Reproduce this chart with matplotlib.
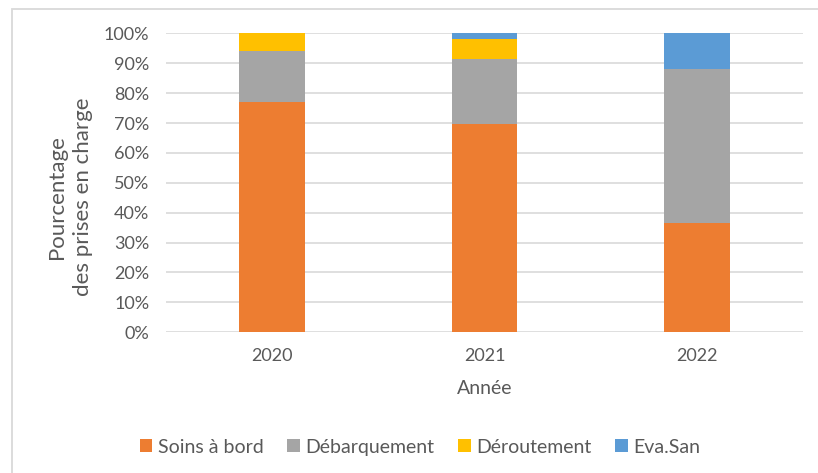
import matplotlib
matplotlib.use("Agg")
import matplotlib.pyplot as plt
from matplotlib.patches import Rectangle
from matplotlib.ticker import PercentFormatter

years = ["2020", "2021", "2022"]
soins_a_bord = [77.1, 69.8, 36.6]
debarquement = [17.0, 21.5, 51.4]
deroutement = [5.9, 6.7, 0.0]
eva_san = [0.0, 2.0, 12.0]

series = [
    ("Soins à bord", soins_a_bord, "#ED7D31"),
    ("Débarquement", debarquement, "#A5A5A5"),
    ("Déroutement", deroutement, "#FFC000"),
    ("Eva.San", eva_san, "#5B9BD5"),
]

plt.rcParams["font.family"] = ["Lato", "DejaVu Sans"]
text_color = "#595959"

fig = plt.figure(figsize=(8.18, 4.73), dpi=100)
ax = fig.add_axes([166 / 818, 1 - 332.3 / 473, (803 - 166) / 818, (332.3 - 33.3) / 473])

x = range(len(years))
bottom = [0.0] * len(years)
for name, vals, color in series:
    ax.bar(x, vals, width=0.31, bottom=bottom, color=color, label=name, zorder=3)
    bottom = [b + v for b, v in zip(bottom, vals)]

ax.set_xlim(-0.5, len(years) - 0.5)
ax.set_ylim(0, 100)
ax.set_yticks(range(0, 101, 10))
ax.yaxis.set_major_formatter(PercentFormatter(decimals=0))
ax.set_xticks(list(x))
ax.set_xticklabels(years)
ax.grid(axis="y", color="#D9D9D9", linewidth=1.2, zorder=0)
for s in ax.spines.values():
    s.set_visible(False)
ax.tick_params(length=0, colors=text_color, labelsize=13)
ax.tick_params(axis="y", pad=12)
ax.tick_params(axis="x", pad=11)

ax.set_xlabel("Année", color=text_color, fontsize=14, labelpad=12)
ax.set_ylabel("Pourcentage\ndes prises en charge", color=text_color, fontsize=16,
              linespacing=1.35)
ax.yaxis.set_label_coords((93 - 166) / (803 - 166), (332.3 - 197) / (332.3 - 33.3))

leg = fig.legend(loc="center", bbox_to_anchor=(420 / 818, 1 - 447 / 473), ncol=4, frameon=False,
                 fontsize=14, handlelength=0.65, handleheight=0.65, handletextpad=0.3,
                 columnspacing=1.2)
for t in leg.get_texts():
    t.set_color(text_color)

# chart frame: left and top edges visible, the rest runs past the image
fig.patches.append(Rectangle((11.5 / 818, -10 / 473), 830 / 818, (473 + 10 - 8.5) / 473,
                             transform=fig.transFigure, fill=False,
                             edgecolor="#D9D9D9", linewidth=1.3))

fig.savefig("out.png", dpi=100, facecolor="white")
